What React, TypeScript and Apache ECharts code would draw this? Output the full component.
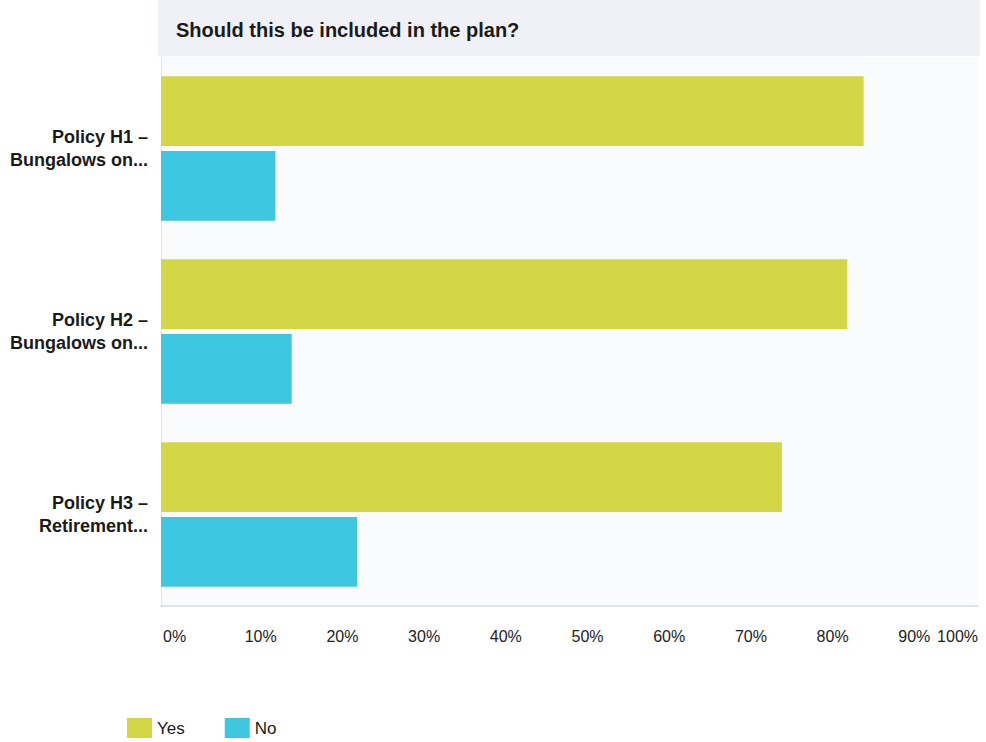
import React, { useEffect, useRef } from "react";
import * as echarts from "echarts";

const categories = ["Policy H1 –\nBungalows on...", "Policy H2 –\nBungalows on...", "Policy H3 –\nRetirement..."];
const yesValues = [86, 84, 76];
const noValues = [14, 16, 24];
const seriesNames = ["Yes", "No"];
const titleText = "Should this be included in the plan?";

export default function App() {
  const ref = useRef<HTMLDivElement>(null);
  useEffect(() => {
    if (!ref.current) return;
    const chart = echarts.init(ref.current, undefined, { renderer: "svg" });
    const font = "'Liberation Sans', Arial, sans-serif";
    chart.setOption({
      animation: false,
      backgroundColor: "#ffffff",
      textStyle: { fontFamily: font },
      graphic: [
        {
          type: "rect",
          left: 158,
          top: 0,
          shape: { width: 822, height: 56 },
          style: { fill: "#eff1f6" },
          z: -1,
        },
        {
          type: "text",
          left: 176,
          top: 20,
          style: { text: titleText, fontSize: 20, fontWeight: "bold", fill: "#1a1a1a", fontFamily: font },
        },
      ],
      grid: {
        left: 161,
        right: 8,
        top: 57,
        bottom: 136,
        show: true,
        backgroundColor: "#f9fbfd",
        borderWidth: 0,
      },
      legend: {
        left: 127,
        top: 718,
        padding: 0,
        icon: "rect",
        itemWidth: 25,
        itemHeight: 20,
        itemGap: 40,
        data: seriesNames,
        textStyle: { fontSize: 17, color: "#1a1a1a", fontFamily: font, padding: [0, 0, 8, 0] },
      },
      xAxis: {
        type: "value",
        min: 0,
        max: 100,
        interval: 10,
        axisLine: { show: true, lineStyle: { color: "#dfe3ea", width: 2 } },
        axisTick: { show: false },
        splitLine: { show: false },
        axisLabel: {
          formatter: "{value}%",
          fontSize: 16,
          color: "#222",
          margin: 22,
          align: "left",
          alignMaxLabel: "right",
          padding: [0, 0, 0, 2],
        },
      },
      yAxis: {
        type: "category",
        data: categories,
        inverse: true,
        axisLine: { show: true, lineStyle: { color: "#dfe3ea", width: 1 } },
        axisTick: { show: false },
        axisLabel: {
          fontSize: 18,
          fontWeight: "bold",
          color: "#1a1a1a",
          margin: 13,
          lineHeight: 23,
          align: "right",
          padding: [4, 0, 0, 0],
        },
      },
      series: [
        {
          name: seriesNames[0],
          type: "bar",
          data: yesValues,
          itemStyle: { color: "#d3d645" },
          barGap: "7%",
          barCategoryGap: "21%",
        },
        {
          name: seriesNames[1],
          type: "bar",
          data: noValues,
          itemStyle: { color: "#3ec7e1" },
        },
      ],
    });
    return () => chart.dispose();
  }, []);
  return <div ref={ref} style={{ position: "fixed", left: 0, top: 0, width: 986, height: 742 }} />;
}
